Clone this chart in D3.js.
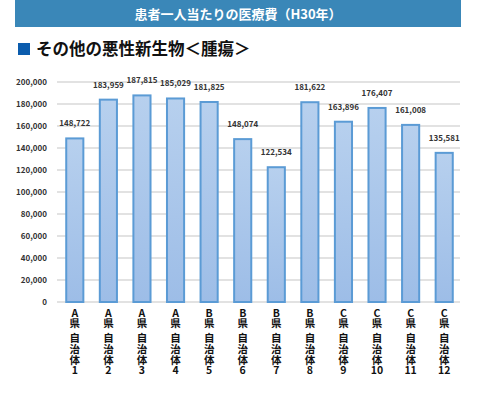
<html>
<head>
<meta charset="utf-8">
<style>
    body { margin: 0; background-color: #fff; }
    text { font-family: "Noto Sans CJK JP", "Liberation Sans", sans-serif; }
</style>
<script src="https://d3js.org/d3.v7.min.js"></script>
</head>
<body>
<div id="chart"></div>
<script>
    // data
    var prefs = ["A","A","A","A","B","B","B","B","C","C","C","C"];
    var towns = ["1","2","3","4","5","6","7","8","9","10","11","12"];
    var costs = [148722, 183959, 187815, 185029, 181825, 148074, 122534, 181622, 163896, 176407, 161008, 135581];
    var yTicks = [0, 20000, 40000, 60000, 80000, 100000, 120000, 140000, 160000, 180000, 200000];

    var svg = d3.select("#chart").append("svg")
        .attr("width", 480)
        .attr("height", 397);

    var defs = svg.append("defs");
    var grad = defs.append("linearGradient").attr("id", "barfill")
        .attr("x1", 0).attr("y1", 0).attr("x2", 0).attr("y2", 1);
    grad.append("stop").attr("offset", "0%").attr("stop-color", "#b7d0ee");
    grad.append("stop").attr("offset", "100%").attr("stop-color", "#9dbde7");

    // header bar
    svg.append("rect").attr("x", 15).attr("y", 0).attr("width", 446).attr("height", 27)
        .attr("fill", "#3a87b8");
    svg.append("text").attr("x", 238).attr("y", 19)
        .attr("text-anchor", "middle").attr("fill", "#fff")
        .attr("font-size", 13).attr("font-weight", "bold")
        .text("患者一人当たりの医療費（H30年）");

    // subtitle
    svg.append("rect").attr("x", 18).attr("y", 43).attr("width", 12).attr("height", 12)
        .attr("fill", "#0b5cad");
    svg.append("text").attr("x", 36).attr("y", 55)
        .attr("font-size", 16.5).attr("font-weight", "bold").attr("fill", "#111")
        .text("その他の悪性新生物＜腫瘍＞");

    var x = d3.scaleBand().domain(d3.range(costs.length)).range([58, 461])
        .paddingInner(0.49).paddingOuter(0.245);
    var y = d3.scaleLinear().domain([0, 200000]).range([302, 82]);

    // grid
    svg.append("g").selectAll("line").data(yTicks).enter().append("line")
        .attr("x1", 57).attr("x2", 460)
        .attr("y1", function (d) { return y(d); })
        .attr("y2", function (d) { return y(d); })
        .attr("stroke", "#d9d9d9").attr("stroke-width", 1.5);

    // y axis labels
    var yAxis = d3.axisLeft(y).tickValues(yTicks).tickSize(0).tickPadding(0)
        .tickFormat(d3.format(","));
    var ya = svg.append("g").attr("transform", "translate(47,0)").call(yAxis);
    ya.select(".domain").remove();
    ya.selectAll("text").attr("font-size", 8).attr("font-weight", "bold")
        .attr("fill", "#333").attr("font-family", "\"Liberation Sans\", sans-serif");

    // bars
    svg.append("g").selectAll("rect").data(costs).enter().append("rect")
        .attr("x", function (d, i) { return x(i); })
        .attr("y", function (d) { return y(d); })
        .attr("width", x.bandwidth())
        .attr("height", function (d) { return y(0) - y(d); })
        .attr("fill", "url(#barfill)")
        .attr("stroke", "#5b9bd5").attr("stroke-width", 2);

    // value labels
    svg.append("g").selectAll("text").data(costs).enter().append("text")
        .attr("x", function (d, i) { return x(i) + x.bandwidth() / 2; })
        .attr("y", function (d) { return y(d) - 12; })
        .attr("text-anchor", "middle")
        .attr("font-size", 8).attr("font-weight", "bold").attr("fill", "#333")
        .attr("font-family", "\"Liberation Sans\", sans-serif")
        .text(d3.format(","));

    // category labels, one character per line (one text, several tspans)
    svg.append("g").selectAll("text").data(costs).enter().append("text")
        .attr("text-anchor", "middle")
        .attr("font-size", 10.5).attr("font-weight", "bold").attr("fill", "#111")
        .each(function (d, i) {
            var t = d3.select(this);
            var cx = x(i) + x.bandwidth() / 2;
            var chars = [[prefs[i], 317], ["県", 327], ["自", 342], ["治", 353], ["体", 364], [towns[i], 374]];
            chars.forEach(function (c) {
                t.append("tspan").attr("x", cx).attr("y", c[1]).text(c[0]);
            });
        });
</script>
</body>
</html>
